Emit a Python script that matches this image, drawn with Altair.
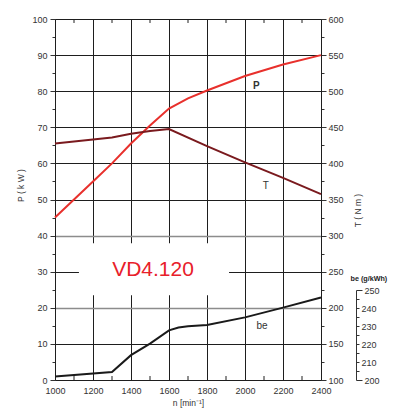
import altair as alt
import pandas as pd

# ---- data ----
n_p = [1000, 1100, 1200, 1300, 1400, 1500, 1600, 1700, 1800, 2000, 2200, 2400]
p_kw = [45, 50, 55, 60, 65.5, 70.5, 75.2, 78, 80.2, 84.2, 87.4, 90]

n_t = [1000, 1200, 1300, 1400, 1500, 1600, 1800, 2000, 2200, 2400]
t_nm = [427.5, 433, 436, 441, 445, 447.5, 424, 401.5, 380, 357.5]

n_be = [1000, 1300, 1400, 1500, 1600, 1650, 1700, 1800, 2000, 2200, 2400]
be_g = [202, 204.4, 213.8, 220.2, 227.6, 229.2, 229.8, 230.6, 234.8, 240.2, 245.8]

minor_n = [1100, 1300, 1500, 1700, 1900, 2100, 2300]

labels = ["P", "T", "be"]
label_n = [2060, 2110, 2090]
label_p = [81.5, 53.7, 15]
label_bold = ["bold", "normal", "normal"]

model_name = "VD4.120"
model_n = 1516
model_p = 30.5

blank_n = [1126, 1916]
blank_p = [23.5, 37.9]

FONT = "Liberation Sans"
W, H = 266, 361

df_p = pd.DataFrame({"n": n_p, "P": p_kw})
df_t = pd.DataFrame({"n": n_t, "T": t_nm})
df_be = pd.DataFrame({"n": n_be, "be": be_g})
df_minor = pd.DataFrame({"n": minor_n})
df_lab = pd.DataFrame({"n": label_n, "P": label_p, "t": labels, "w": label_bold})
df_model = pd.DataFrame({"n": [model_n], "P": [model_p], "t": [model_name]})
df_blank = pd.DataFrame({"n": [blank_n[0]], "n2": [blank_n[1]], "P": [blank_p[0]], "P2": [blank_p[1]]})

xscale = alt.Scale(domain=[1000, 2400], nice=False, zero=False)
pscale = alt.Scale(domain=[0, 100], nice=False, zero=False)

x_axis = alt.Axis(
    values=list(range(1000, 2401, 200)), grid=True, gridColor="#1e1e1e", gridWidth=1,
    ticks=False, labelFontSize=9, labelColor="#333", labelFont=FONT, labelPadding=6,
    labelOverlap=False, labelFlush=False, format="d",
    domainColor="#1e1e1e", title="n [min⁻¹]", titleFont=FONT, titleFontSize=8.5,
    titleFontWeight="normal", titleColor="#333", titlePadding=3,
)

p_axis = alt.Axis(
    values=list(range(0, 101, 5)),
    labelExpr="datum.value % 10 === 0 ? datum.label : ''",
    labelOverlap=False, labelFlush=False, format="d",
    tickSize={"condition": {"test": "datum.value % 10 === 0", "value": 5}, "value": 3},
    tickColor="#333",
    grid=True,
    gridColor={"condition": {"test": "datum.value === 40 || datum.value === 20", "value": "#8c8c8c"}, "value": "#1e1e1e"},
    gridWidth={"condition": {"test": "datum.value === 40 || datum.value === 20", "value": 1.6}, "value": 1},
    gridOpacity={"condition": {"test": "datum.value % 10 === 0 && datum.value > 0", "value": 1}, "value": 0},
    labelFontSize=9, labelColor="#333", labelFont=FONT, labelPadding=3,
    domainColor="#1e1e1e",
    title="P ( k W )", titleFont=FONT, titleFontSize=8.5, titleFontWeight="normal",
    titleColor="#333", titleX=-35, titleY=166, titleAngle=270,
    titleAlign="center", titleBaseline="middle",
)

t_axis = alt.Axis(
    orient="right",
    values=list(range(100, 601, 25)),
    labelExpr="datum.value % 50 === 0 ? datum.label : ''",
    labelOverlap=False, labelFlush=False, format="d",
    tickSize={"condition": {"test": "datum.value % 50 === 0", "value": 5}, "value": 3},
    tickColor="#333", grid=False,
    labelFontSize=9, labelColor="#333", labelFont=FONT, labelPadding=2,
    domainColor="#1e1e1e",
    title="T ( N m )", titleFont=FONT, titleFontSize=8.5, titleFontWeight="normal",
    titleColor="#333", titleX=36, titleY=191, titleAngle=270,
    titleAlign="center", titleBaseline="middle",
)

be_axis = alt.Axis(
    orient="right", offset=35,
    values=list(range(200, 251, 5)),
    labelExpr="datum.value % 10 === 0 ? datum.label : ''",
    labelOverlap=False, labelFlush=False, format="d",
    tickSize={"condition": {"test": "datum.value === 200 || datum.value === 250", "value": 6},
              "value": 3},
    tickColor="#333", grid=False,
    labelFontSize=9, labelColor="#333", labelFont=FONT, labelPadding=2,
    domainColor="#333",
    title="be (g/kWh)", titleFont=FONT, titleFontSize=7.2, titleFontWeight="bold",
    titleColor="#222", titleX=-6, titleY=259, titleAngle=0,
    titleAlign="left", titleBaseline="middle",
)


def X():
    return alt.X("n:Q", scale=xscale, axis=x_axis)


def YP(field="P:Q"):
    return alt.Y(field, scale=pscale, axis=p_axis)


blank = alt.Chart(df_blank).mark_rect(color="white").encode(
    x=X(), x2="n2:Q", y=YP(), y2="P2:Q",
)

minor_top = alt.Chart(df_minor).mark_rule(color="#1e1e1e", strokeWidth=1).encode(
    x=X(), y=alt.datum(100, scale=pscale, axis=p_axis), y2=alt.datum(98.9)
)
minor_bot = alt.Chart(df_minor).mark_rule(color="#1e1e1e", strokeWidth=1).encode(
    x=X(), y=alt.datum(0, scale=pscale, axis=p_axis), y2=alt.datum(1.1)
)

p_line = alt.Chart(df_p).mark_line(color="#e8302c", strokeWidth=2).encode(x=X(), y=YP())

lab_bold = alt.Chart(df_lab[df_lab.w == "bold"]).mark_text(
    font=FONT, fontSize=10, fontWeight="bold", color="#333"
).encode(x=X(), y=YP(), text="t:N")
lab_norm = alt.Chart(df_lab[df_lab.w == "normal"]).mark_text(
    font=FONT, fontSize=10, color="#333"
).encode(x=X(), y=YP(), text="t:N")

model = alt.Chart(df_model).mark_text(
    font=FONT, fontSize=21, color="#e8202a"
).encode(x=X(), y=YP(), text="t:N")

layer_p = alt.layer(blank, minor_top, minor_bot, p_line, lab_bold, lab_norm, model)

t_line = alt.Chart(df_t).mark_line(color="#7a1a1e", strokeWidth=2).encode(
    x=X(),
    y=alt.Y("T:Q", scale=alt.Scale(domain=[100, 600], nice=False, zero=False), axis=t_axis),
)

be_line = alt.Chart(df_be).mark_line(color="#1a1a1a", strokeWidth=2).encode(
    x=X(),
    y=alt.Y("be:Q", scale=alt.Scale(domain=[200, 250], range=[361, 271], nice=False, zero=False),
            axis=be_axis),
)

chart = alt.layer(layer_p, t_line, be_line).resolve_scale(y="independent").properties(
    width=W, height=H,
    autosize=alt.AutoSizeParams(type="none"),
    padding={"left": 47, "top": 11, "right": 67, "bottom": 28},
).configure_view(stroke="#1e1e1e", strokeWidth=1).configure(background="white")

chart.save("out.html", embed_options={"renderer": "svg", "actions": False})
